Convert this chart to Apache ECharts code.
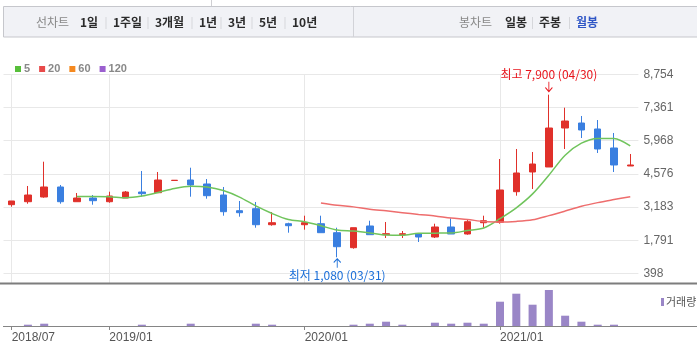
<!DOCTYPE html>
<html>
<head>
<meta charset="utf-8">
<script src="https://cdn.jsdelivr.net/npm/echarts@6/dist/echarts.min.js"></script>
<style>
  html, body { margin: 0; padding: 0; background: #fff; }
  #chart { width: 697px; height: 350px; }
</style>
</head>
<body>
<div id="chart"></div>
<script>
// Monthly candles, 2018/07 – 2021/09
const months = [
  '2018/07','2018/08','2018/09','2018/10','2018/11','2018/12',
  '2019/01','2019/02','2019/03','2019/04','2019/05','2019/06','2019/07','2019/08','2019/09','2019/10','2019/11','2019/12',
  '2020/01','2020/02','2020/03','2020/04','2020/05','2020/06','2020/07','2020/08','2020/09','2020/10','2020/11','2020/12',
  '2021/01','2021/02','2021/03','2021/04','2021/05','2021/06','2021/07','2021/08','2021/09'
];
const opens  = [3285,3410,3607,4027,3410,3565,3410,3565,3817,3788,4300,4320,4153,3691,3033,3117,2445,2487,2445,2487,2110,1481,2391,2026,2026,2055,1929,2349,2055,2529,2546,3830,4656,4866,6501,6711,6460,5663,4908];
const closes = [3440,3691,4027,3410,3565,3452,3649,3817,3746,4320,4310,4111,3662,2991,2949,2445,2529,2403,2529,2110,1523,2320,2026,2068,2068,1929,2349,2055,2571,2613,3901,4614,4991,6501,6795,6418,5621,4950,4950];
const lows   = [3200,3326,3578,3326,3410,3284,3368,3565,3620,3788,4300,3620,3536,2823,2781,2320,2403,2110,2236,2110,1080,1439,2026,1888,1888,1720,1888,2055,2026,2320,2487,3662,3943,4866,5621,6082,5453,4656,4908];
const highs  = [3440,4069,5088,4111,3775,3691,3830,3859,4698,4656,4310,4836,4362,4027,3439,3398,2978,2529,2823,2823,2320,2320,2613,2559,2181,2055,2487,2714,2672,2823,5201,5621,5495,7900,7353,7005,6837,6292,5411];

// Moving averages (5 and 20 months)
const ma5  = ['-','-','-','-',3627,3629,3621,3579,3646,3797,3968,4060,4029,3878,3604,3232,2915,2663,2571,2403,2219,2177,2102,2009,2001,2085,2091,2099,2200,2309,2700,3153,3738,4524,5360,5864,6065,6057,5747];
const ma20 = ['-','-','-','-','-','-','-','-','-','-','-','-','-','-','-','-','-','-','-',3358,3262,3193,3093,3026,2951,2876,2811,2723,2665,2579,2559,2584,2651,2826,3018,3217,3372,3499,3620];

// Monthly volume (shares)
const volumes = [0,65000,115000,0,0,0,0,0,65000,0,0,115000,0,0,0,115000,65000,0,0,0,0,65000,115000,215000,65000,0,165000,115000,165000,115000,1215000,1615000,1065000,1800000,515000,215000,65000,65000,0];

// Price axis ticks and the months labelled on the time axis
const priceTicks = [398, 1791, 3183, 4576, 5968, 7361, 8754];
const labelledMonths = ['2018/07','2019/01','2020/01','2021/01'];

// Period high / low notes
const extremeDays = { high: '04/30', low: '03/31' };

// Header menu
const lineMenu = ['1일','1주일','3개월','1년','3년','5년','10년'];
const candleMenu = ['일봉','주봉','월봉'];

const UP = '#e0302a', DOWN = '#3a7fe0';
const latin = '"Liberation Sans", "Noto Sans CJK KR", sans-serif';
const korean = '"Noto Sans CJK KR", "Liberation Sans", sans-serif';

const hiIdx = highs.indexOf(Math.max(...highs));
const loIdx = lows.indexOf(Math.min(...lows));
const isLabelled = (i, v) => labelledMonths.indexOf(v) >= 0;

// Header bar pieces
const header = [
  { type: 'line', shape: { x1: 211.5, y1: 0, x2: 211.5, y2: 6 }, style: { stroke: '#cfcfd3', lineWidth: 1 } },
  { type: 'rect', shape: { x: 3.5, y: 6.5, width: 700, height: 30.5 }, style: { fill: '#f1f2f6', stroke: '#c6c7cc', lineWidth: 1 } },
  { type: 'line', shape: { x1: 353.5, y1: 7, x2: 353.5, y2: 37 }, style: { stroke: '#d2d3d8', lineWidth: 1 } }
];
function menuText(text, x, fill, bold) {
  return { type: 'text', style: { text, x, y: 22, fill, font: (bold ? 'bold ' : '') + '12px ' + korean, verticalAlign: 'middle', textVerticalAlign: 'middle' } };
}
function sep(x) {
  return { type: 'line', shape: { x1: x + 0.5, y1: 17, x2: x + 0.5, y2: 29 }, style: { stroke: '#d6d7db', lineWidth: 1 } };
}
header.push(menuText('선차트', 36, '#888', false));
const lineX = [80, 113, 155, 199, 228, 259, 292];
lineMenu.forEach((t, i) => {
  header.push(menuText(t, lineX[i], '#2b2b2b', true));
  if (i > 0) header.push(sep(lineX[i] - 7.5));
});
header.push(menuText('봉차트', 459, '#888', false));
const candleX = [505, 539, 576];
candleMenu.forEach((t, i) => {
  header.push(menuText(t, candleX[i], i === 2 ? '#2f56c6' : '#2b2b2b', true));
  if (i > 0) header.push(sep(candleX[i] - 7));
});
// Panel separators
header.push({ type: 'line', z: 100, shape: { x1: 0, y1: 283.5, x2: 697, y2: 283.5 }, style: { stroke: '#7d7d7d', lineWidth: 2 } });
header.push({ type: 'line', z: 100, shape: { x1: 3, y1: 326.5, x2: 697, y2: 326.5 }, style: { stroke: '#858585', lineWidth: 1 } });

const chart = echarts.init(document.getElementById('chart'), null, { renderer: 'canvas' });

chart.setOption({
  animation: false,
  backgroundColor: '#fff',
  graphic: header,
  legend: [
    {
      left: 10, top: 58.5, icon: 'rect', itemWidth: 6, itemHeight: 6, itemGap: 9,
      selectedMode: false,
      textStyle: { color: '#888', fontWeight: 'bold', fontSize: 11, fontFamily: latin, padding: [0, 0, 0, -2] },
      data: [
        { name: '5', itemStyle: { color: '#57bf3a' } },
        { name: '20', itemStyle: { color: '#e84a4a' } },
        { name: '60', itemStyle: { color: '#f5891f' } },
        { name: '120', itemStyle: { color: '#9b5fcf' } }
      ]
    },
    {
      left: 656, top: 291.5, icon: 'rect', itemWidth: 3, itemHeight: 8,
      selectedMode: false,
      textStyle: { color: '#555', fontSize: 11, fontFamily: korean, padding: [0, 0, 0, -3] },
      data: [{ name: '거래량', itemStyle: { color: '#9a86c7' } }]
    }
  ],
  grid: [
    { left: 3.5, right: 58.6, top: 74.3, bottom: 67 },
    { left: 3.5, right: 58.6, top: 283, bottom: 24 }
  ],
  xAxis: [
    {
      type: 'category', gridIndex: 0, data: months, boundaryGap: true,
      axisLine: { show: false }, axisTick: { show: false }, axisLabel: { show: false },
      splitLine: { show: true, interval: isLabelled, alignWithLabel: true, lineStyle: { color: '#e8e8e8' } }
    },
    {
      type: 'category', gridIndex: 1, data: months, boundaryGap: true,
      axisLine: { show: false },
      axisTick: { show: true, interval: isLabelled, alignWithLabel: true, length: 4, lineStyle: { color: '#858585' } },
      axisLabel: { interval: isLabelled, align: 'left', color: '#555', fontSize: 12, fontFamily: latin, margin: 6 },
      splitLine: { show: false }
    }
  ],
  yAxis: [
    {
      type: 'value', gridIndex: 0, position: 'right', min: 0, max: priceTicks[priceTicks.length - 1],
      axisLine: { show: false },
      axisTick: { show: false, customValues: priceTicks },
      axisLabel: {
        customValues: priceTicks, color: '#666', fontSize: 12, fontFamily: latin, margin: 5,
        formatter: v => Math.round(v).toLocaleString('en-US')
      },
      splitLine: { show: true, lineStyle: { color: '#e8e8e8' } }
    },
    { type: 'value', gridIndex: 1, min: 0, max: 2150000, show: false }
  ],
  series: [
    { type: 'line', name: '5', xAxisIndex: 0, yAxisIndex: 0, data: ma5, smooth: 0.3, symbol: 'none',
      lineStyle: { color: '#70c45c', width: 1.5 }, itemStyle: { color: '#57bf3a' } },
    { type: 'line', name: '20', xAxisIndex: 0, yAxisIndex: 0, data: ma20, smooth: 0.3, symbol: 'none',
      lineStyle: { color: '#ee6d6d', width: 1.5 }, itemStyle: { color: '#e84a4a' } },
    { type: 'line', name: '60', xAxisIndex: 0, yAxisIndex: 0, data: [], symbol: 'none', itemStyle: { color: '#f5891f' } },
    { type: 'line', name: '120', xAxisIndex: 0, yAxisIndex: 0, data: [], symbol: 'none', itemStyle: { color: '#9b5fcf' } },
    {
      type: 'candlestick', name: '시세', xAxisIndex: 0, yAxisIndex: 0, barWidth: 7,
      data: months.map((m, i) => [opens[i], closes[i], lows[i], highs[i]]),
      itemStyle: { color: UP, color0: DOWN, borderColor: UP, borderColor0: DOWN, borderWidth: 1 },
      markPoint: {
        silent: true,
        data: [
          {
            coord: [months[hiIdx], highs[hiIdx]],
            symbol: 'path://M5 0 L5 12 M1 7 L5 12 L9 7', symbolSize: [7, 10], symbolOffset: [0, -8],
            itemStyle: { color: 'none', borderColor: '#e8141c', borderWidth: 1 },
            label: { show: true, position: 'top', distance: -1.5, color: '#e8141c', fontSize: 12, fontFamily: korean,
              formatter: '최고 ' + highs[hiIdx].toLocaleString('en-US') + ' (' + extremeDays.high + ')' }
          },
          {
            coord: [months[loIdx], lows[loIdx]],
            symbol: 'path://M5 12 L5 0 M1 5 L5 0 L9 5', symbolSize: [7, 9], symbolOffset: [0, 6],
            itemStyle: { color: 'none', borderColor: '#1b6fd9', borderWidth: 1 },
            label: { show: true, position: 'bottom', distance: -1, color: '#1b6fd9', fontSize: 12, fontFamily: korean,
              formatter: '최저 ' + lows[loIdx].toLocaleString('en-US') + ' (' + extremeDays.low + ')' }
          }
        ]
      }
    },
    {
      type: 'bar', name: '거래량', xAxisIndex: 1, yAxisIndex: 1, data: volumes, barWidth: 8,
      itemStyle: { color: '#9a86c7' }
    }
  ]
});
</script>
</body>
</html>
